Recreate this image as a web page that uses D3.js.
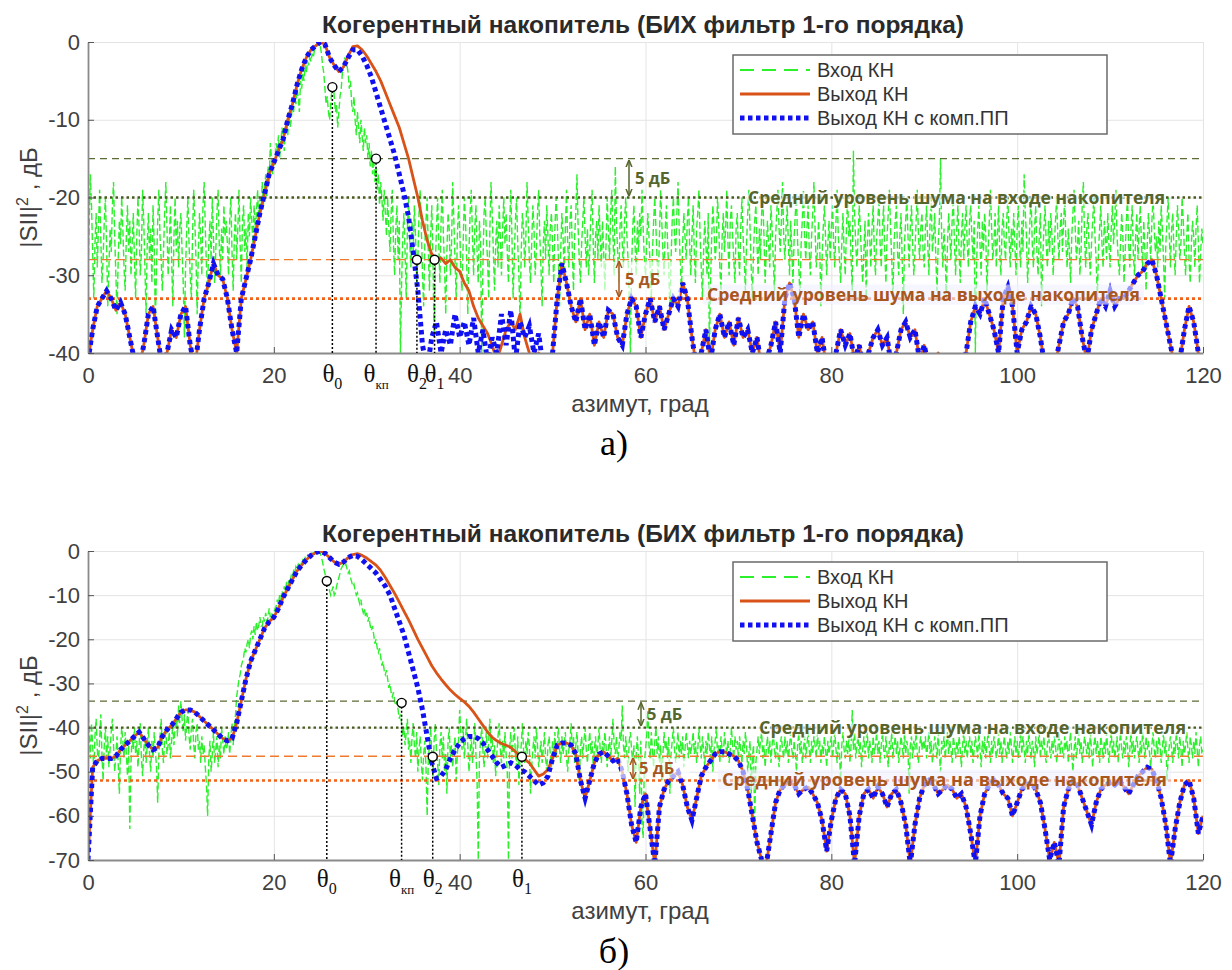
<!DOCTYPE html>
<html>
<head>
<meta charset="utf-8">
<script src="https://cdn.jsdelivr.net/npm/d3@7"></script>
<style>
body { margin: 0; background: #fff; }
svg { display: block; }
</style>
</head>
<body>
<svg id="chart" width="1232" height="970"></svg>
<script>
// sampling of the curves, degrees (input noise is 0.125 deg, outputs 0.5 deg)
var azStep = 0.5;
var patchStart = 28;

var xTicks = [0, 20, 40, 60, 80, 100, 120];
var yTicksA = [0, -10, -20, -30, -40];
var yTicksB = [0, -10, -20, -30, -40, -50, -60, -70];
var legendNames = ['Вход КН', 'Выход КН', 'Выход КН с комп.ПП'];
var titleText = 'Когерентный накопитель (БИХ фильтр 1-го порядка)';
var thetaNames = ['0', 'кп', '2', '1'];
var noiseInText = 'Средний уровень шума на входе накопителя';
var noiseOutText = 'Средний уровень шума на выходе накопителя';

// panel a: input of the accumulator, one row = 5 deg
var inputA = [
	-30,-24,-17,-21,-27,-33,-26,-22,-29,-24,-19,-25,-31,-28,-23,-20,-26,-34,-29,-24,-27,-21,-18,-25,-30,-35,-28,-23,-26,-20,-24,-29,-32,-25,-21,-27,-23,-30,-26,-22,
	-28,-33,-25,-20,-24,-30,-27,-19,-23,-29,-35,-26,-22,-28,-24,-31,-21,-26,-36,-29,-23,-19,-25,-28,-32,-27,-22,-18,-24,-30,-26,-21,-28,-34,-25,-20,-27,-23,-29,-24,
	-22,-27,-31,-38,-29,-24,-20,-26,-30,-33,-25,-19,-23,-28,-35,-27,-22,-25,-30,-21,-18,-24,-29,-32,-26,-23,-28,-20,-25,-31,-27,-22,-19,-26,-30,-24,-28,-21,-25,-23,
	-26,-30,-23,-20,-27,-32,-25,-22,-28,-24,-19,-26,-31,-23,-21,-27,-24,-29,-22,-25,-20,-23,-26,-21,-24,-22,-19,-23,-20,-22,-18,-21,-19,-17,-20,-16,-18,-13,-15,-17,
	-15,-16,-13,-14,-12,-15,-13,-11,-12,-14,-11,-10,-12,-9,-11,-10,-8,-9,-7,-8,-6,-7,-9,-5,-6,-4,-5,-3,-4,-2.5,-3,-2,-2.5,-1.5,-2,-1,-0.8,-0.5,-0.3,0,
	-0.5,-1.5,-3,-4,-6,-8,-7,-9,-10,-8,-6,-5,-7,-9,-8,-11,-9,-7,-6,-4,-3,-2,-2.5,-3,-4,-6,-5,-8,-9,-7,-10,-12,-9,-11,-13,-10,-12,-14,-11,-13,
	-12,-15,-13,-16,-14,-17,-15,-18,-16,-19,-17,-21,-18,-20,-23,-19,-22,-25,-20,-24,-27,-22,-19,-26,-30,-24,-21,-28,-23,-40,-31,-25,-22,-27,-33,-24,-20,-26,-29,-23,
	-27,-21,-25,-31,-28,-22,-19,-24,-30,-34,-26,-23,-20,-27,-32,-25,-21,-28,-38,-29,-24,-20,-26,-31,-23,-19,-25,-29,-35,-27,-22,-24,-30,-26,-18,-23,-28,-33,-25,-21,
	-24,-29,-32,-26,-20,-23,-28,-35,-27,-22,-19,-25,-30,-24,-21,-27,-31,-23,-26,-40,-29,-22,-20,-25,-28,-33,-24,-18,-22,-27,-32,-26,-23,-29,-21,-25,-30,-24,-20,-26,
	-22,-27,-31,-24,-19,-25,-33,-28,-23,-20,-26,-30,-36,-27,-22,-24,-29,-25,-18,-23,-28,-31,-26,-21,-24,-30,-27,-22,-19,-25,-29,-34,-26,-23,-28,-21,-25,-30,-24,-22,
	-26,-31,-24,-20,-23,-28,-34,-27,-22,-25,-30,-24,-19,-26,-29,-23,-21,-27,-32,-25,-22,-17,-24,-28,-31,-26,-23,-20,-25,-29,-24,-30,-27,-22,-19,-26,-31,-25,-23,-28,
	-21,-25,-29,-23,-27,-32,-26,-20,-24,-28,-22,-19,-25,-30,-16,-23,-27,-31,-24,-21,-26,-29,-23,-20,-25,-28,-33,-40,-29,-24,-21,-26,-30,-23,-27,-22,-25,-19,-24,-28,
	-30,-26,-22,-25,-29,-33,-27,-23,-20,-24,-28,-31,-25,-19,-23,-27,-30,-24,-21,-26,-29,-35,-28,-23,-20,-25,-27,-22,-18,-24,-29,-32,-26,-22,-25,-28,-23,-20,-26,-30,
	-25,-21,-27,-31,-24,-22,-19,-25,-29,-33,-27,-23,-26,-30,-22,-40,-31,-25,-21,-24,-28,-26,-20,-23,-29,-32,-25,-22,-27,-24,-19,-26,-30,-23,-21,-25,-28,-31,-24,-22,
	-27,-30,-24,-20,-25,-28,-32,-26,-22,-19,-24,-29,-33,-27,-23,-21,-26,-30,-24,-28,-22,-20,-25,-31,-27,-23,-26,-29,-21,-24,-28,-32,-25,-22,-19,-24,-27,-23,-18,-25,
	-28,-24,-21,-26,-30,-23,-27,-31,-25,-22,-20,-26,-29,-33,-26,-23,-19,-25,-28,-24,-21,-27,-30,-25,-22,-18,-24,-29,-27,-23,-26,-34,-28,-24,-21,-25,-30,-26,-23,-28,
	-24,-21,-26,-29,-23,-19,-25,-28,-31,-26,-22,-27,-30,-24,-20,-25,-23,-28,-32,-14,-22,-26,-29,-25,-21,-24,-28,-31,-27,-23,-33,-26,-22,-25,-29,-24,-21,-27,-30,-25,
	-23,-20,-26,-29,-24,-21,-27,-31,-25,-22,-19,-24,-28,-33,-26,-23,-21,-27,-30,-25,-22,-28,-35,-26,-23,-20,-25,-29,-24,-21,-26,-30,-27,-23,-19,-25,-28,-24,-22,-27,
	-29,-24,-21,-26,-30,-23,-20,-27,-25,-22,-28,-32,-26,-23,-15,-25,-29,-24,-27,-33,-26,-22,-25,-28,-23,-20,-26,-30,-24,-21,-27,-31,-25,-22,-28,-24,-21,-26,-29,-23,
	-21,-25,-28,-23,-40,-29,-24,-21,-26,-30,-23,-27,-22,-25,-32,-27,-23,-19,-24,-28,-26,-22,-29,-25,-21,-27,-30,-24,-22,-26,-28,-23,-20,-25,-29,-24,-27,-22,-26,-30,
	-24,-21,-26,-29,-23,-27,-17,-22,-25,-31,-27,-23,-20,-26,-29,-24,-21,-27,-30,-25,-22,-34,-28,-24,-21,-26,-29,-23,-27,-22,-25,-30,-26,-23,-20,-25,-28,-24,-22,-27,
	-23,-20,-26,-29,-24,-27,-31,-25,-22,-19,-24,-28,-26,-23,-30,-27,-21,-18,-25,-29,-24,-22,-27,-30,-26,-23,-20,-25,-28,-33,-27,-24,-21,-26,-29,-23,-25,-28,-22,-26,
	-29,-24,-21,-26,-23,-19,-25,-28,-30,-26,-22,-25,-31,-27,-23,-20,-26,-29,-24,-21,-27,-30,-25,-22,-28,-24,-21,-26,-29,-23,-27,-32,-26,-22,-25,-28,-23,-20,-24,-27,
	-25,-29,-23,-27,-21,-24,-28,-33,-26,-23,-20,-25,-29,-24,-22,-27,-30,-25,-21,-24,-28,-26,-20,-23,-27,-30,-25,-22,-28,-31,-26,-23,-25,-29,-24,-21,-26,-31,-27,-24,
	-26
];
// panel a: output with compensation, one row = 5 deg
var compA = [
	-41,-37,-34,-33,-32,-33,-34.5,-33.5,-35,-38,
	-41,-42,-39,-35,-34,-38,-42,-40,-37,-38,
	-35,-34,-39,-42,-37,-33,-31,-28.5,-30,-30.5,
	-33,-37,-40,-33,-30.5,-28,-25,-22,-19.5,-17,
	-15.5,-14,-12.5,-10,-8,-5.5,-3.5,-2,-1,-0.5,
	0,-0.3,-2,-3,-3.8,-3.2,-2,-1,-1,-1.8,
	-3,-4.5,-6.5,-8.5,-10.5,-12.5,-14.5,-17,-19.5,-22.5,
	-27,-32,-39,-42,-38,-36,-40,-37,-39,-35,
	-38,-36,-39,-35.5,-40,-37,-41,-38,-40,-35,
	-39,-34.5,-41,-36,-38,-36.5,-40,-37.5,-42,-41,
	-40,-33,-28.5,-31,-34,-36,-33,-37,-35,-39,
	-36,-38,-34.5,-35,-38,-39,-35,-33,-34,-38,
	-35,-33,-36,-34,-37,-35,-33,-34,-31,-33,
	-38,-42,-40,-37,-41,-37,-35,-38,-36,-39,
	-35.5,-38,-37,-40,-38,-42,-41,-39,-36,-40,
	-33,-31,-33,-38,-35,-37,-36,-40,-38,-42,
	-41,-40,-37,-39,-37.5,-41,-39,-42,-40,-38,
	-37,-39,-38,-42,-40,-37,-36,-38,-37,-41,
	-39,-42,-41,-40,-42,-41,-42,-41,-42,-40,
	-36,-34,-35,-33,-35,-37,-40,-33,-31.5,-34,
	-40,-37,-36,-34,-35,-38,-42,-41,-42,-39,
	-36,-35,-33,-34,-38,-41,-37,-35,-33,-34,
	-32,-34,-33,-33,-32,-31,-30,-29.5,-28.5,-28,
	-30,-33,-36,-39,-42,-41,-37,-34,-36,-40,
	-41
];
// panel a: plain output where it leaves the compensated one (28..50 deg)
var outPatchA = [
	-1.8,-0.6,-0.5,-1,-1.8,-2.8,-3.8,-5,-6.5,-8,
	-9.5,-11,-13,-15,-17.5,-20,-23,-25.5,-27.3,-28,
	-27.8,-28.5,-28,-29,-29.5,-31,-32,-34,-35.5,-36.5,
	-37.5,-39,-41,-39,-37,-36,-37,-35,-38,-40,
	-42,-40,-41,-42,-40
];
var levelsA = [-15, -20, -28, -33];
var markXA = [26.3, 31.0, 35.4, 37.3];
var markYA = [-5.8, -15, -28, -28];

// panel b: input, one row = 5 deg
var inputB = [
	-35,-41,-47,-39,-44,-50,-42,-38,-45,-48,-43,-37,-46,-52,-44,-40,-47,-42,-49,-45,-41,-38,-44,-50,-46,-42,-48,-55,-45,-40,-43,-47,-41,-46,-51,-44,-63,-48,-42,-45,
	-40,-46,-43,-49,-44,-39,-47,-51,-45,-42,-48,-44,-40,-46,-50,-43,-47,-41,-45,-49,-57,-46,-42,-38,-45,-48,-43,-40,-46,-44,-41,-47,-43,-39,-44,-40,-37,-42,-35,-39,
	-34,-38,-41,-37,-43,-39,-36,-42,-45,-40,-38,-44,-47,-41,-39,-45,-43,-48,-42,-46,-44,-49,-53,-60,-47,-43,-50,-46,-41,-48,-45,-42,-49,-44,-47,-40,-43,-46,-42,-45,
	-44,-41,-46,-42,-39,-44,-40,-37,-33,-31,-29,-28,-26,-25,-24,-22,-23,-21,-20,-22,-19,-18,-20,-17,-19,-16,-18,-17,-15,-17,-17,-15,-16,-14,-16,-15,-13,-15,-14,-15,
	-14,-13,-12.5,-11,-12,-10,-11,-9,-10,-8,-9,-7,-8,-6.5,-7,-5.5,-6,-4.5,-5,-3.5,-4,-3,-3.5,-2.5,-3,-2,-2.5,-1.5,-2,-1,-1.5,-0.8,-1.2,-0.5,-0.8,-0.3,-0.5,-0.2,-0.1,0,
	-0.5,-1.5,-2.5,-4,-5,-6.5,-8,-7,-9,-10,-9,-8,-10,-9.5,-8,-7,-6,-5,-4,-3.5,-3,-3.5,-3,-4,-5,-4.5,-6,-7,-8,-7.5,-9,-10,-9.5,-11,-12,-11,-13,-14,-13,-15,
	-14,-16,-15,-17,-18,-17,-19,-21,-20,-22,-23,-22,-24,-26,-25,-27,-28,-27,-29,-31,-30,-32,-33,-32,-34,-35,-34,-36,-38,-37,-39,-42,-40,-44,-41,-38,-45,-43,-48,-42,
	-39,-44,-47,-41,-50,-45,-42,-48,-52,-46,-43,-49,-60,-47,-44,-40,-46,-51,-43,-39,-45,-48,-53,-44,-41,-47,-42,-50,-46,-55,-43,-40,-47,-44,-49,-45,-42,-52,-46,-43,
	-36,-41,-45,-40,-47,-43,-38,-44,-50,-46,-42,-48,-44,-39,-46,-52,-70,-47,-43,-40,-45,-49,-44,-41,-47,-43,-38,-45,-42,-48,-44,-51,-46,-42,-39,-45,-48,-43,-47,-41,
	-46,-50,-70,-45,-41,-47,-43,-40,-46,-49,-42,-53,-47,-44,-39,-45,-48,-43,-46,-41,-44,-55,-49,-45,-42,-47,-40,-44,-49,-46,-43,-48,-45,-41,-47,-50,-44,-42,-46,-49,
	-43,-46,-41,-47,-44,-40,-45,-48,-42,-46,-44,-41,-47,-50,-45,-43,-39,-46,-42,-48,-44,-41,-46,-52,-45,-42,-47,-43,-40,-45,-48,-44,-41,-46,-43,-49,-45,-42,-47,-44,
	-40,-45,-48,-43,-46,-41,-44,-49,-45,-42,-47,-43,-38,-44,-46,-42,-48,-45,-41,-43,-35,-44,-47,-42,-46,-50,-43,-41,-45,-48,-44,-58,-46,-42,-47,-55,-43,-62,-65,-48,
	-45,-42,-36,-44,-47,-41,-45,-49,-43,-40,-46,-42,-48,-44,-52,-46,-41,-45,-43,-47,-42,-55,-46,-43,-40,-45,-48,-44,-41,-47,-43,-46,-42,-49,-45,-41,-44,-47,-43,-46,
	-44,-41,-46,-43,-48,-45,-40,-44,-47,-42,-45,-49,-43,-46,-41,-44,-47,-42,-50,-45,-43,-40,-46,-44,-48,-42,-45,-47,-41,-44,-46,-43,-48,-45,-40,-44,-47,-42,-45,-43,
	-47,-42,-45,-48,-43,-46,-41,-44,-50,-46,-43,-55,-47,-44,-62,-48,-45,-42,-46,-43,-41,-47,-44,-49,-45,-42,-46,-43,-48,-44,-41,-45,-47,-43,-46,-49,-44,-42,-45,-47,
	-42,-46,-43,-48,-44,-41,-45,-47,-43,-46,-50,-44,-41,-46,-43,-48,-45,-42,-47,-44,-41,-45,-48,-43,-46,-42,-44,-47,-41,-45,-43,-48,-44,-46,-42,-45,-49,-43,-46,-44,
	-42,-47,-44,-41,-45,-48,-43,-46,-52,-44,-41,-45,-47,-43,-46,-42,-48,-44,-36,-45,-41,-47,-44,-42,-46,-43,-49,-45,-42,-46,-44,-41,-47,-43,-45,-48,-42,-46,-44,-41,
	-46,-43,-48,-44,-41,-45,-47,-42,-46,-49,-43,-45,-41,-47,-44,-42,-46,-43,-48,-45,-42,-44,-47,-41,-46,-43,-45,-55,-44,-42,-47,-43,-45,-41,-46,-48,-44,-42,-45,-43,
	-45,-42,-47,-44,-41,-46,-43,-48,-45,-42,-44,-47,-41,-46,-50,-43,-45,-42,-47,-44,-41,-46,-43,-45,-48,-42,-44,-47,-43,-46,-42,-45,-49,-44,-41,-46,-43,-47,-44,-42,
	-46,-43,-48,-45,-42,-44,-47,-41,-45,-49,-43,-46,-42,-47,-44,-41,-45,-48,-43,-46,-42,-44,-47,-45,-41,-46,-43,-48,-44,-42,-45,-47,-43,-46,-41,-44,-48,-45,-42,-46,
	-43,-47,-44,-41,-46,-42,-45,-48,-43,-46,-41,-44,-47,-43,-45,-49,-42,-46,-44,-41,-47,-43,-45,-42,-46,-48,-44,-41,-45,-47,-43,-46,-42,-44,-48,-45,-41,-46,-43,-45,
	-47,-42,-45,-43,-48,-44,-41,-46,-50,-45,-42,-47,-44,-41,-46,-43,-48,-45,-42,-44,-46,-43,-47,-41,-45,-49,-44,-42,-46,-43,-45,-48,-42,-44,-47,-43,-46,-41,-45,-48,
	-44,-41,-46,-43,-47,-45,-42,-48,-44,-41,-45,-47,-43,-46,-42,-44,-49,-45,-41,-46,-43,-47,-44,-42,-45,-48,-43,-46,-41,-44,-47,-42,-45,-43,-46,-49,-44,-41,-45,-47,
	-43,-46,-42,-44,-48,-45,-41,-46,-43,-52,-47,-44,-42,-45,-48,-43,-46,-41,-44,-47,-42,-45,-49,-43,-46,-44,-41,-45,-48,-42,-44,-47,-43,-46,-41,-45,-49,-44,-42,-46,
	-45
];
var compB = [
	-70,-49,-47.5,-47,-47,-47,-46.5,-45,-44,-43,
	-42,-41,-42.5,-44,-45,-44.5,-42,-40.5,-39.5,-38,
	-36.5,-36,-36,-36.5,-37.5,-38.5,-39.5,-40.5,-41.5,-42.5,
	-43,-42.5,-39,-34,-29,-25,-22.5,-20,-17.5,-16,
	-15,-13,-10.5,-8.5,-6.5,-4.5,-3.2,-2,-1,-0.4,
	0,-0.5,-1.5,-2.5,-3,-2.5,-1.5,-1,-1.2,-2,
	-3,-4,-5,-6.5,-8,-10,-13,-16,-19,-23,
	-27,-31,-36,-42,-48,-51.5,-51,-49.5,-47,-45,
	-43.5,-42.5,-42,-42,-42.5,-43.5,-45,-46.5,-48,-49,
	-48.5,-48,-48.5,-49.5,-50,-51,-52,-53,-52.5,-51,
	-47,-44,-43.5,-43.5,-44,-46,-52,-56,-52,-48,
	-46,-45.5,-46.5,-47.5,-47,-50,-55,-62,-66,-58,
	-55,-63,-71,-58,-54,-52,-51,-50,-53,-58,
	-61,-56,-51,-49,-47.5,-46,-45.5,-45.5,-46,-46.5,
	-47.5,-50,-54,-60,-66,-70,-71,-64,-57,-54,
	-53,-52.5,-53,-55,-54,-53.5,-55,-57,-61,-68,
	-61,-56,-54,-55,-60,-71,-60,-55,-54,-56,
	-53.5,-55,-58,-55,-54,-57,-62,-71,-62,-56,
	-53,-52,-53,-55,-54,-53,-54,-56,-55,-58,
	-64,-71,-60,-55,-53,-52,-53,-55,-56,-60,
	-57,-54,-53,-52.5,-54,-57,-63,-70,-66,-71,
	-58,-54,-52,-53,-56,-59,-62,-57,-54,-53,
	-52.5,-53,-52,-53.5,-55,-53,-51,-50,-49,-49.5,
	-52,-56,-62,-71,-63,-57,-53,-52,-56,-64,
	-60
];
var outPatchB = [
	-1.5,-0.8,-0.6,-1,-1.6,-2.4,-3.2,-4.4,-6,-7.8,
	-9.6,-11.6,-13.6,-15.6,-17.8,-20,-22,-24,-26,-27.6,
	-29,-30.3,-31.5,-32.5,-33.4,-34.2,-35.2,-36.5,-38,-39.5,
	-41,-42.2,-43,-43.6,-44,-44.5,-45.5,-46.5,-47.2,-48,
	-49.5,-51,-50.5,-49.5,-47
];
var levelsB = [-34, -40, -46.5, -52];
var markXB = [25.7, 33.75, 37.1, 46.7];
var markYB = [-6.8, -34.4, -46.6, -46.6];

var colGreen = '#2cf02c', colOrange = '#d95319', colBlue = '#1010f0';
var olive = '#56652c', brown = '#a8561e';

var svg = d3.select('#chart');
var left = 88, right = 1203;
var x = d3.scaleLinear().domain([0, 120]).range([left, right]);

var defs = svg.append('defs');
[['arrOlive', olive], ['arrBrown', brown]].forEach(function(m){
	defs.append('marker')
		.attr('id', m[0])
		.attr('viewBox', '0 0 10 10')
		.attr('refX', 9).attr('refY', 5)
		.attr('markerWidth', 5).attr('markerHeight', 5)
		.attr('orient', 'auto-start-reverse')
		.append('path')
		.attr('d', 'M0,1L10,5L0,9')
		.attr('fill', 'none')
		.attr('stroke', m[1])
		.attr('stroke-width', 2);
});

function toPoints(values, step){
	return values.map(function(v, i){ return {x: i*step, y: v}; });
}
function withPatch(base, patch){
	return base.map(function(d){
		var k = Math.round((d.x - patchStart)/azStep);
		return (k >= 0 && k < patch.length) ? {x: d.x, y: patch[k]} : d;
	});
}

var levelStyle = [
	{c: '#5b6b36', w: 1.3, d: '7,5'},
	{c: '#485a1c', w: 2.3, d: '2.5,3'},
	{c: '#f07a2c', w: 1.3, d: '9,5'},
	{c: '#f26218', w: 2.6, d: '3,3'}
];

function drawPanel(p){
	var y = d3.scaleLinear().domain([p.yMin, 0]).range([p.bottom, p.top]);
	var g = svg.append('g');
	var h = p.bottom - p.top;

	defs.append('clipPath').attr('id', 'clip' + p.id)
		.append('rect')
		.attr('x', left).attr('y', p.top)
		.attr('width', right - left).attr('height', h);

	// grid
	g.append('g')
		.attr('transform', 'translate(0,' + p.bottom + ')')
		.call(d3.axisBottom(x).tickValues(xTicks).tickSize(-h).tickFormat(''))
		.call(function(s){ s.select('.domain').remove(); s.selectAll('line').attr('stroke', '#e4e4e4'); });
	g.append('g')
		.attr('transform', 'translate(' + left + ',0)')
		.call(d3.axisLeft(y).tickValues(p.yTicks).tickSize(-(right - left)).tickFormat(''))
		.call(function(s){ s.select('.domain').remove(); s.selectAll('line').attr('stroke', '#e4e4e4'); });

	var line = d3.line().x(function(d){ return x(d.x); }).y(function(d){ return y(d.y); });
	var plot = g.append('g').attr('clip-path', 'url(#clip' + p.id + ')');

	plot.append('path')
		.datum(toPoints(p.input, 120/(p.input.length - 1)))
		.attr('d', line)
		.attr('fill', 'none')
		.attr('stroke', colGreen)
		.attr('stroke-width', 1.4)
		.attr('stroke-dasharray', '7,3');

	plot.selectAll('line.level')
		.data(p.levels).enter()
		.append('line')
		.attr('class', 'level')
		.attr('x1', left).attr('x2', right)
		.attr('y1', function(d){ return y(d); })
		.attr('y2', function(d){ return y(d); })
		.attr('stroke', function(d, i){ return levelStyle[i].c; })
		.attr('stroke-width', function(d, i){ return levelStyle[i].w; })
		.attr('stroke-dasharray', function(d, i){ return levelStyle[i].d; });

	var comp = toPoints(p.comp, azStep);
	plot.append('path')
		.datum(withPatch(comp, p.outPatch))
		.attr('d', line)
		.attr('fill', 'none')
		.attr('stroke', colOrange)
		.attr('stroke-width', 2.8)
		.attr('stroke-linejoin', 'round');
	plot.append('path')
		.datum(comp)
		.attr('d', line)
		.attr('fill', 'none')
		.attr('stroke', colBlue)
		.attr('stroke-width', 5)
		.attr('stroke-dasharray', '4.5,3.5');

	// white box under the lower "5 дБ" label
	g.append('rect')
		.attr('x', p.box5[0]).attr('width', p.box5[1])
		.attr('y', y(p.levels[2]) + 2)
		.attr('height', y(p.levels[3]) - y(p.levels[2]) - 4)
		.attr('fill', '#fff').attr('opacity', 0.65);

	// noise level captions
	var outLbl = g.append('text')
		.attr('x', p.outTextX).attr('y', y(p.levels[3]) + p.outTextDy)
		.attr('font-family', '"Open Sans", sans-serif')
		.attr('font-weight', 'bold').attr('font-size', 17)
		.attr('textLength', p.outTextW).attr('lengthAdjust', 'spacingAndGlyphs')
		.attr('fill', brown)
		.text(noiseOutText);
	var bb = outLbl.node().getBBox();
	g.insert('rect', function(){ return outLbl.node(); })
		.attr('x', bb.x - 4).attr('y', bb.y + 2)
		.attr('width', bb.width + 8).attr('height', bb.height - 3)
		.attr('fill', '#eef0ff').attr('opacity', 0.6);

	g.append('text')
		.attr('x', p.inTextX).attr('y', y(p.levels[1]) + p.inTextDy)
		.attr('font-family', '"Open Sans", sans-serif')
		.attr('font-weight', 'bold').attr('font-size', 17)
		.attr('textLength', p.inTextW).attr('lengthAdjust', 'spacingAndGlyphs')
		.attr('fill', olive)
		.attr('stroke', '#fff').attr('stroke-width', 3).attr('stroke-opacity', 0.7)
		.attr('paint-order', 'stroke')
		.text(noiseInText);

	// 5 дБ arrows
	[[0, 1, p.arrowX[0], olive, 'arrOlive'], [2, 3, p.arrowX[1], brown, 'arrBrown']].forEach(function(a){
		var y1 = y(p.levels[a[0]]), y2 = y(p.levels[a[1]]);
		g.append('line')
			.attr('x1', a[2]).attr('x2', a[2])
			.attr('y1', y1 + 2).attr('y2', y2 - 2)
			.attr('stroke', a[3]).attr('stroke-width', 1.5)
			.attr('marker-start', 'url(#' + a[4] + ')')
			.attr('marker-end', 'url(#' + a[4] + ')');
		g.append('text')
			.attr('x', a[2] + 6).attr('y', (y1 + y2)/2 + 6)
			.attr('font-family', '"Open Sans", sans-serif')
			.attr('font-weight', 'bold').attr('font-size', 16.5)
			.attr('fill', a[3])
			.text('5 дБ');
	});

	// axes
	var ax = g.append('g')
		.attr('transform', 'translate(0,' + p.bottom + ')')
		.call(d3.axisBottom(x).tickValues(xTicks).tickSizeInner(-6).tickSizeOuter(0).tickPadding(14)
			.tickFormat(function(d){ return String(d); }));
	var ay = g.append('g')
		.attr('transform', 'translate(' + left + ',0)')
		.call(d3.axisLeft(y).tickValues(p.yTicks).tickSizeInner(-6).tickSizeOuter(0).tickPadding(8)
			.tickFormat(function(d){ return String(d); }));
	[ax, ay].forEach(function(a){
		a.select('.domain').attr('stroke', '#8a8a8a').attr('stroke-width', 1.8);
		a.selectAll('.tick line').attr('stroke', '#555');
		a.selectAll('.tick text')
			.attr('font-family', '"Liberation Sans", Arial, sans-serif')
			.attr('font-size', 22)
			.attr('fill', '#404040');
	});

	// markers and their projections
	var marks = p.markX.map(function(v, i){ return {x: v, y: p.markY[i], name: thetaNames[i]}; });
	g.selectAll('line.proj')
		.data(marks).enter()
		.append('line')
		.attr('x1', function(d){ return x(d.x); })
		.attr('x2', function(d){ return x(d.x); })
		.attr('y1', function(d){ return y(d.y); })
		.attr('y2', p.bottom)
		.attr('stroke', '#000').attr('stroke-width', 1.5)
		.attr('stroke-dasharray', '2,2');
	g.selectAll('circle.mark')
		.data(marks).enter()
		.append('circle')
		.attr('cx', function(d){ return x(d.x); })
		.attr('cy', function(d){ return y(d.y); })
		.attr('r', 4.5)
		.attr('fill', '#fff').attr('stroke', '#000').attr('stroke-width', 1.4);
	var th = g.selectAll('text.theta')
		.data(marks).enter()
		.append('text')
		.attr('x', function(d){ return x(d.x); })
		.attr('y', p.bottom + p.thetaDy)
		.attr('text-anchor', 'middle')
		.attr('font-family', '"Liberation Serif", "Times New Roman", serif')
		.attr('font-size', 25)
		.attr('fill', '#111');
	th.append('tspan').text('θ');
	th.append('tspan')
		.attr('dy', 7)
		.attr('font-size', function(d){ return d.name.length > 1 ? 13 : 16; })
		.text(function(d){ return d.name; });

	// legend
	var lg = g.append('g').attr('transform', 'translate(733,' + p.legendTop + ')');
	lg.append('rect')
		.attr('width', 374).attr('height', 79)
		.attr('fill', '#fff').attr('stroke', '#6a6a6a').attr('stroke-width', 1.5);
	var lineStyles = [
		{c: colGreen, w: 2, d: '14,8'},
		{c: colOrange, w: 3, d: null},
		{c: colBlue, w: 5, d: '4.5,3.5'}
	];
	legendNames.forEach(function(name, i){
		var cy = 15 + i*24;
		lg.append('line')
			.attr('x1', 7).attr('x2', 77)
			.attr('y1', cy).attr('y2', cy)
			.attr('stroke', lineStyles[i].c)
			.attr('stroke-width', lineStyles[i].w)
			.attr('stroke-dasharray', lineStyles[i].d);
		lg.append('text')
			.attr('x', 84).attr('y', cy + 7)
			.attr('font-family', '"Liberation Sans", Arial, sans-serif')
			.attr('font-size', 20)
			.attr('fill', '#333')
			.text(name);
	});

	// titles
	g.append('text')
		.attr('x', 643).attr('y', p.top - 9)
		.attr('text-anchor', 'middle')
		.attr('font-family', '"Liberation Sans", Arial, sans-serif')
		.attr('font-weight', 'bold').attr('font-size', 24.5)
		.attr('fill', '#2a2a2a')
		.text(titleText);
	g.append('text')
		.attr('x', 640).attr('y', p.bottom + 59)
		.attr('text-anchor', 'middle')
		.attr('font-family', '"Liberation Sans", Arial, sans-serif')
		.attr('font-size', 24)
		.attr('fill', '#404040')
		.text('азимут, град');
	var yl = g.append('text')
		.attr('transform', 'translate(37,' + (p.top + p.bottom)/2 + ') rotate(-90)')
		.attr('text-anchor', 'middle')
		.attr('font-family', '"Liberation Sans", Arial, sans-serif')
		.attr('font-size', 24)
		.attr('fill', '#404040');
	yl.append('tspan').text('|SII|');
	yl.append('tspan').attr('dy', -9).attr('font-size', 16).text('2');
	yl.append('tspan').attr('dy', 9).text(' , дБ');
	g.append('text')
		.attr('x', 614).attr('y', p.subY)
		.attr('text-anchor', 'middle')
		.attr('font-family', '"Liberation Serif", "Times New Roman", serif')
		.attr('font-size', 36)
		.attr('fill', '#000')
		.text(p.sub);
}

drawPanel({
	id: 'a', top: 42, bottom: 353, yMin: -40, yTicks: yTicksA,
	input: inputA, comp: compA, outPatch: outPatchA, levels: levelsA,
	markX: markXA, markY: markYA,
	inTextX: 748, inTextW: 417, inTextDy: 6,
	outTextX: 707, outTextW: 433, outTextDy: 2,
	arrowX: [629, 619], box5: [600, 80],
	thetaDy: 29, legendTop: 55, subY: 455, sub: 'а)'
});
drawPanel({
	id: 'b', top: 551, bottom: 860, yMin: -70, yTicks: yTicksB,
	input: inputB, comp: compB, outPatch: outPatchB, levels: levelsB,
	markX: markXB, markY: markYB,
	inTextX: 759, inTextW: 427, inTextDy: 6,
	outTextX: 722, outTextW: 445, outTextDy: 5,
	arrowX: [641, 633], box5: [620, 70],
	thetaDy: 27, legendTop: 562, subY: 963, sub: 'б)'
});
</script>
</body>
</html>
